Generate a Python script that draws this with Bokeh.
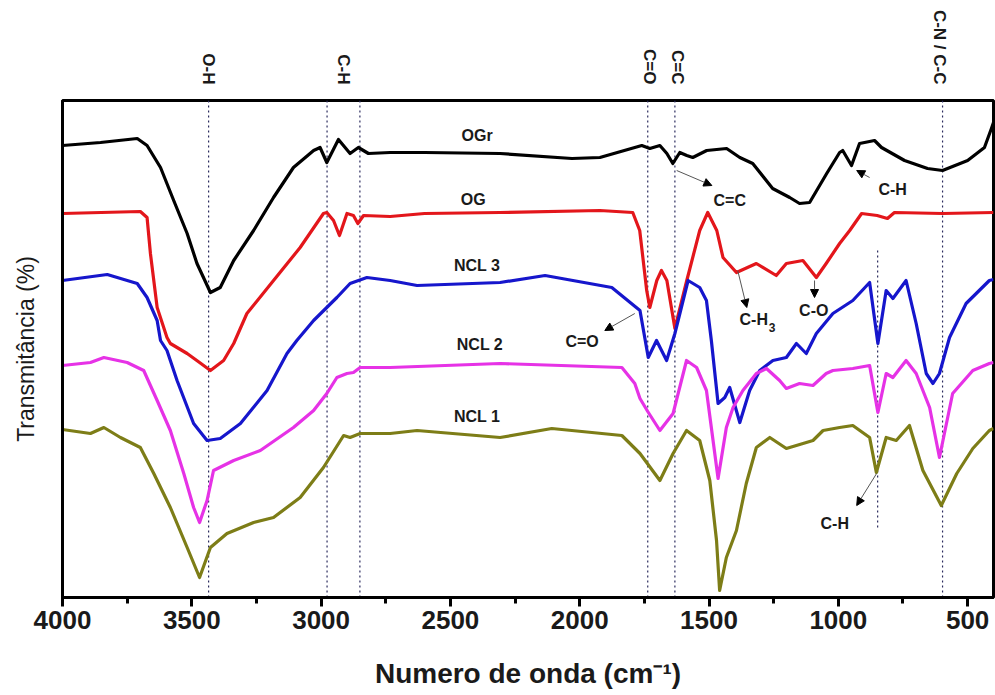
import math
from bokeh.plotting import figure
from bokeh.models import (Range1d, LinearAxis, FixedTicker, SingleIntervalTicker, Label, Arrow,
                          NormalHead)
from bokeh.embed import file_html
from bokeh.resources import INLINE

# ---------------- data (wavenumber cm-1, transmittance in arbitrary offset units) -------------
ogr_wn = [4000, 3853, 3711, 3673, 3621, 3570, 3518, 3480, 3428, 3390, 3338, 3261, 3184, 3107,
          3029, 3004, 2978, 2933, 2888, 2856, 2817, 2733, 2600, 2308, 2030, 1922, 1760, 1729,
          1690, 1663, 1640, 1613, 1586, 1563, 1509, 1432, 1381, 1331, 1254, 1188, 1150, 1111,
          1045, 995, 983, 949, 918, 860, 833, 744, 655, 597, 500, 435, 408, 400]
ogr_t = [452, 455, 459, 452, 430, 397, 364, 334, 305, 310, 337, 367, 400, 430,
         447, 450, 435, 458, 444, 450, 444, 445, 445, 444, 439, 440, 452, 449,
         452, 444, 434, 445, 442, 440, 447, 449, 440, 434, 409, 400, 394, 395,
         424, 445, 447, 432, 454, 457, 450, 437, 429, 427, 437, 450, 469, 475]

og_wn = [4000, 3850, 3699, 3673, 3660, 3634, 3596, 3583, 3518, 3470, 3428, 3377, 3338, 3287,
         3184, 3081, 2991, 2978, 2952, 2929, 2900, 2875, 2858, 2836, 2733, 2600, 2308, 1922,
         1795, 1768, 1741, 1729, 1702, 1684, 1663, 1632, 1586, 1536, 1505, 1470, 1446, 1394,
         1317, 1240, 1201, 1137, 1085, 1047, 995, 956, 910, 850, 810, 783, 597, 400]
og_t = [384, 385, 386, 380, 344, 290, 260, 254, 244, 235, 227, 237, 254, 284,
        317, 350, 384, 385, 377, 362, 384, 382, 374, 382, 381, 384, 385, 387,
        385, 367, 307, 290, 317, 327, 317, 269, 317, 367, 385, 367, 340, 325,
        334, 322, 334, 337, 320, 334, 354, 367, 384, 382, 379, 385, 384, 385]

ncl3_wn = [4000, 3827, 3711, 3673, 3634, 3621, 3596, 3557, 3493, 3441, 3390, 3312, 3209, 3132,
           3094, 3029, 2939, 2888, 2823, 2733, 2629, 2308, 2134, 1876, 1767, 1735, 1703, 1664,
           1632, 1581, 1536, 1510, 1491, 1465, 1439, 1420, 1381, 1343, 1304, 1253, 1201, 1162,
           1124, 1085, 1021, 944, 879, 847, 815, 789, 738, 699, 660, 634, 609, 570, 506, 416,
           400]
ncl3_t = [317, 323, 314, 300, 277, 257, 247, 217, 174, 157, 159, 174, 207, 244,
          257, 277, 300, 314, 320, 317, 312, 315, 322, 310, 287, 240, 257, 237,
          264, 317, 310, 297, 257, 194, 200, 210, 175, 207, 227, 237, 240, 254,
          244, 264, 284, 297, 315, 254, 307, 299, 317, 274, 224, 214, 224, 260, 294, 317,
          318]

ncl2_wn = [4000, 3892, 3840, 3750, 3686, 3634, 3583, 3531, 3493, 3470, 3441, 3416, 3338, 3235,
           3107, 3029, 2978, 2939, 2900, 2875, 2849, 2733, 2308, 1837, 1787, 1767, 1737, 1690,
           1639, 1587, 1548, 1510, 1465, 1433, 1407, 1369, 1317, 1278, 1227, 1201, 1150, 1098,
           1047, 1021, 944, 879, 847, 815, 789, 738, 699, 647, 609, 558, 480, 416, 400]
ncl2_t = [232, 235, 240, 235, 227, 197, 167, 124, 90, 75, 97, 127, 137, 147,
          170, 187, 204, 220, 224, 225, 230, 230, 234, 230, 214, 199, 186, 167,
          184, 237, 230, 207, 119, 170, 190, 207, 224, 229, 217, 209, 214, 212,
          224, 227, 229, 232, 185, 224, 220, 237, 224, 190, 140, 204, 227, 234, 235]

ncl1_wn = [4000, 3892, 3840, 3776, 3699, 3647, 3583, 3518, 3470, 3428, 3364, 3261, 3184, 3081,
           2991, 2913, 2888, 2849, 2733, 2629, 2308, 2108, 1837, 1767, 1690, 1639, 1587, 1536,
           1497, 1471, 1459, 1433, 1394, 1356, 1317, 1265, 1201, 1098, 1059, 995, 944, 879,
           853, 815, 776, 725, 673, 602, 542, 480, 416, 400]
ncl1_t = [168, 164, 170, 160, 150, 124, 90, 50, 20, 50, 64, 75, 80, 100,
          130, 162, 160, 164, 164, 167, 160, 169, 162, 144, 117, 144, 167, 157,
          117, 57, 7, 40, 67, 114, 150, 160, 149, 157, 167, 170, 172, 160,
          125, 160, 157, 172, 127, 92, 124, 149, 167, 169]

series_names = ["OGr", "OG", "NCL 3", "NCL 2", "NCL 1"]
series_colors = ["#000000", "#e3161b", "#1616cc", "#e632e6", "#7d7d17"]
name_wn = [2397, 2412, 2397, 2386, 2397]
name_t = [462, 398, 332, 253, 181]

band_wn = [3435, 2977, 2850, 1737, 1632, 597]
band_top_wn = [3436, 2915, 1729, 1621, 609]
band_top_labels = ["O-H", "C-H", "C=O", "C=C", "C-N / C-C"]
ch_line_wn = [848]
ch_line_t0 = [70]
ch_line_t1 = [349]

x_ticks_interval = 500

FONT = "Liberation Sans"
TXT = "#1a1a1a"

# ---------------- figure -------------
p = figure(width=995, height=695, x_range=Range1d(4000, 400), y_range=Range1d(0, 497),
           output_backend="svg", toolbar_location=None,
           min_border_left=62, min_border_right=2, min_border_top=100, min_border_bottom=98,
           background_fill_color="white", border_fill_color="white")
p.xgrid.visible = False
p.ygrid.visible = False
p.outline_line_color = "black"
p.outline_line_width = 3
p.outline_line_alpha = 1.0

# x axis
xa = p.xaxis[0]
xa.ticker = SingleIntervalTicker(interval=x_ticks_interval, num_minor_ticks=2)
xa.axis_line_width = 3
xa.major_tick_line_width = 3
xa.minor_tick_line_width = 3
xa.major_tick_out = 9
xa.major_tick_in = 0
xa.minor_tick_out = 6
xa.minor_tick_in = 0
xa.major_label_text_font = FONT
xa.major_label_text_font_style = "bold"
xa.major_label_text_font_size = "26px"
xa.major_label_text_color = TXT
xa.major_label_standoff = 4
xa.axis_label = "Numero de onda (cm\u207b\u00b9)"
xa.axis_label_text_font = FONT
xa.axis_label_text_font_style = "bold"
xa.axis_label_text_font_size = "28px"
xa.axis_label_text_color = TXT
xa.axis_label_standoff = 26

# y axis
ya = p.yaxis[0]
ya.ticker = FixedTicker(ticks=[])
ya.axis_line_width = 3
ya.major_tick_line_color = None
ya.minor_tick_line_color = None
ya.major_label_text_color = None
ya.axis_label = "Transmitância (%)"
ya.axis_label_text_font = FONT
ya.axis_label_text_font_style = "normal"
ya.axis_label_text_font_size = "23px"
ya.axis_label_text_color = TXT
ya.axis_label_standoff = 24

# top band labels (as an axis above the frame)
ta = LinearAxis(ticker=FixedTicker(ticks=band_top_wn),
                major_label_overrides={w: t for w, t in zip(band_top_wn, band_top_labels)})
ta.axis_line_color = None
ta.major_tick_line_color = None
ta.minor_tick_line_color = None
ta.major_tick_out = 0
ta.major_tick_in = 0
ta.major_label_orientation = -math.pi / 2
ta.major_label_text_font = FONT
ta.major_label_text_font_style = "bold"
ta.major_label_text_font_size = "17px"
ta.major_label_text_color = TXT
ta.major_label_standoff = 16
p.add_layout(ta, "above")

# dotted band lines
p.segment(x0=band_wn, x1=band_wn, y0=[0] * len(band_wn), y1=[497] * len(band_wn),
          line_color="#2b2b5e", line_width=1.2, line_dash="2 3")
p.segment(x0=ch_line_wn, x1=ch_line_wn, y0=ch_line_t0, y1=ch_line_t1,
          line_color="#2b2b5e", line_width=1.2, line_dash="2 3")

# spectra
for wn, t, c in [(ogr_wn, ogr_t, series_colors[0]), (og_wn, og_t, series_colors[1]),
                 (ncl3_wn, ncl3_t, series_colors[2]), (ncl2_wn, ncl2_t, series_colors[3]),
                 (ncl1_wn, ncl1_t, series_colors[4])]:
    p.line(wn, t, line_color=c, line_width=3.2, line_join="round")

# series names
for n, x, y in zip(series_names, name_wn, name_t):
    p.add_layout(Label(x=x, y=y, text=n, text_align="center", text_baseline="middle",
                       text_font=FONT, text_font_style="bold", text_font_size="16px",
                       text_color=TXT))

# annotations with arrows
ann_text = ["C=C", "C-H", "C-H", "C-O", "C=O", "C-H"]
ann_x = [1420, 790, 1327, 1095, 1991, 1014]
ann_y = [397, 408, 278, 287, 256, 74]
arr_x0 = [1625, 879, 1389, 1092, 1787, 852]
arr_y0 = [427, 420, 327, 317, 284, 124]
arr_x1 = [1489, 929, 1354, 1092, 1903, 929]
arr_y1 = [412, 427, 290, 300, 267, 92]

for t, x, y in zip(ann_text, ann_x, ann_y):
    p.add_layout(Label(x=x, y=y, text=t, text_align="center", text_baseline="middle",
                       text_font=FONT, text_font_style="bold", text_font_size="16px",
                       text_color=TXT))
# subscript of C-H3
p.add_layout(Label(x=1327, y=278, x_offset=15, y_offset=-8, text="3", text_align="left",
                   text_baseline="middle", text_font=FONT, text_font_style="bold",
                   text_font_size="12px", text_color=TXT))

for x0, y0, x1, y1 in zip(arr_x0, arr_y0, arr_x1, arr_y1):
    p.add_layout(Arrow(end=NormalHead(size=8, fill_color="black", line_color="black"),
                       x_start=x0, y_start=y0, x_end=x1, y_end=y1,
                       line_color="#555555", line_width=1))

open("out.html", "w").write(file_html(p, INLINE))
